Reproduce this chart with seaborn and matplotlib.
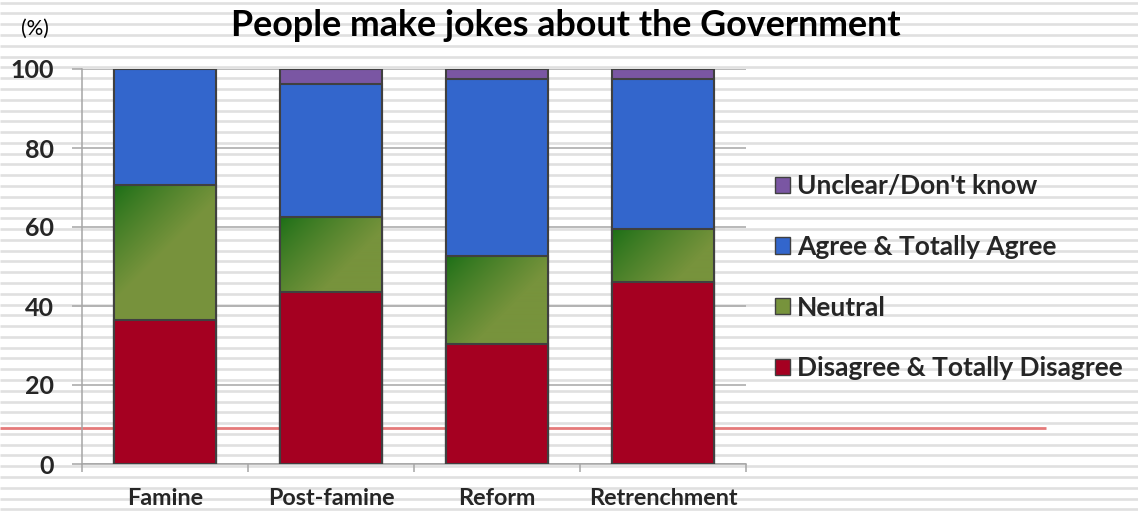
import numpy as np
import matplotlib
matplotlib.use("Agg")
import matplotlib.pyplot as plt
from matplotlib.patches import Patch, Rectangle
from matplotlib.colors import to_rgb
import seaborn as sns

# Survey answers (%) per period
periods = ["Famine", "Post-famine", "Reform", "Retrenchment"]
disagree = [36.5, 43.5, 30.4, 46.0]
neutral = [34.1, 19.0, 22.3, 13.5]
agree = [29.4, 33.7, 44.7, 37.9]
unclear = [0.0, 3.8, 2.6, 2.6]

series_labels = ["Unclear/Don't know", "Agree & Totally Agree", "Neutral",
                 "Disagree & Totally Disagree"]
yticks = [0, 20, 40, 60, 80, 100]

C_RED = "#a50021"
C_GREEN = "#77933c"
C_GREEN_DARK = "#1a6e16"
C_BLUE = "#3366cc"
C_PURPLE = "#7a56a3"
EDGE = "#404040"
GRID = "#a6a6a6"

sns.set_theme(style="white")
plt.rcParams["font.family"] = ["Lato", "DejaVu Sans"]

W, H = 1138, 517
fig = plt.figure(figsize=(W / 100, H / 100), dpi=100)

# ---- lined-paper background in pixel coordinates
bg = fig.add_axes([0, 0, 1, 1], zorder=0)
bg.set_xlim(0, W)
bg.set_ylim(H, 0)
bg.axis("off")
ys = np.arange(2.7, H, 10.78)
bg.hlines(ys, 0, W, color="#e0e0e0", lw=1.9)
bg.hlines([428], 0, 1046, color="#e57a7a", lw=2.0)
bg.add_patch(Rectangle((82, 67), 664, 406, facecolor="white", edgecolor="none"))

# ---- chart axes
ax = fig.add_axes([82 / W, (H - 464) / H, 664 / W, 395 / H], zorder=1)
ax.set_facecolor("none")

cum_red = np.array(disagree)
cum_green = cum_red + np.array(neutral)
cum_blue = cum_green + np.array(agree)
cum_purple = cum_blue + np.array(unclear)

bar_kw = dict(width=0.62, edgecolor=EDGE, linewidth=1.5, saturation=1, ax=ax)
sns.barplot(x=periods, y=cum_purple, color=C_PURPLE, zorder=2, **bar_kw)
sns.barplot(x=periods, y=cum_blue, color=C_BLUE, zorder=3, **bar_kw)
sns.barplot(x=periods, y=cum_green, color=C_GREEN, zorder=4, **bar_kw)
sns.barplot(x=periods, y=cum_red, color=C_RED, zorder=5, **bar_kw)

ax.set_xlim(-0.5, 3.5)
ax.set_ylim(0, 100)

# green segments: transparent face, diagonal gradient underneath
green_patches = ax.patches[8:12]
dark = np.array(to_rgb(C_GREEN_DARK))
olive = np.array(to_rgb(C_GREEN))
for p, lo, hi in zip(green_patches, disagree, cum_green):
    p.set_facecolor("none")
    x0, x1 = p.get_x(), p.get_x() + p.get_width()
    (px0, py0), (px1, py1) = ax.transData.transform([(x0, lo), (x1, hi)])
    wpx, hpx = int(round(px1 - px0)), int(round(py1 - py0))
    dx = np.arange(wpx)[None, :]
    dy = np.arange(hpx)[:, None]
    t = np.clip((dx + dy) / 115.0, 0, 1) ** 0.85
    img = dark[None, None, :] + (olive - dark)[None, None, :] * t[..., None]
    ax.imshow(img, extent=(x0, x1, lo, hi), origin="upper", aspect="auto",
              zorder=3.5, interpolation="bilinear")

ax.set_xlim(-0.5, 3.5)
ax.set_ylim(0, 100)

# grid and spines
ax.set_yticks(yticks)
ax.yaxis.grid(True, color=GRID, lw=1.1)
ax.set_axisbelow(True)
for s in ["top", "right"]:
    ax.spines[s].set_visible(False)
for s in ["left", "bottom"]:
    ax.spines[s].set_color(GRID)
    ax.spines[s].set_linewidth(1.1)
    ax.spines[s].set_zorder(1)

ax.tick_params(axis="y", which="major", length=7.2, width=1.1, color=GRID,
               direction="out", pad=13, labelsize=18, left=True)
for lab in ax.get_yticklabels():
    lab.set_fontweight("bold")

ax.set_xticks([-0.5, 0.5, 1.5, 2.5, 3.5])
ax.set_xticklabels([])
ax.set_xticks(range(len(periods)), minor=True)
ax.set_xticklabels(periods, minor=True, fontsize=16.8, fontweight="bold")
ax.tick_params(axis="x", which="major", length=5.8, width=1.1, color=GRID,
               direction="out", bottom=True)
ax.tick_params(axis="x", which="minor", length=0, pad=17.5)
ax.set_xlabel("")
ax.set_ylabel("")

# titles
fig.text(566 / W, 1 - 26 / H, "People make jokes about the Government",
         ha="center", va="center", fontsize=25.8, fontweight="bold", color="black")
fig.text(35 / W, 1 - 29 / H, "(%)", ha="center", va="center", fontsize=15,
         color="black")

# legend
handles = [Patch(facecolor=c, edgecolor=EDGE, linewidth=1.0)
           for c in [C_PURPLE, C_BLUE, C_GREEN, C_RED]]
fig.legend(handles, series_labels, loc="upper left",
           bbox_to_anchor=(775 / W, 1 - 174 / H), frameon=False,
           prop={"weight": "bold", "size": 19},
           handlelength=0.57, handleheight=0.57, handletextpad=0.27,
           labelspacing=1.395, borderaxespad=0, borderpad=0)

fig.savefig("out.png", dpi=100)
